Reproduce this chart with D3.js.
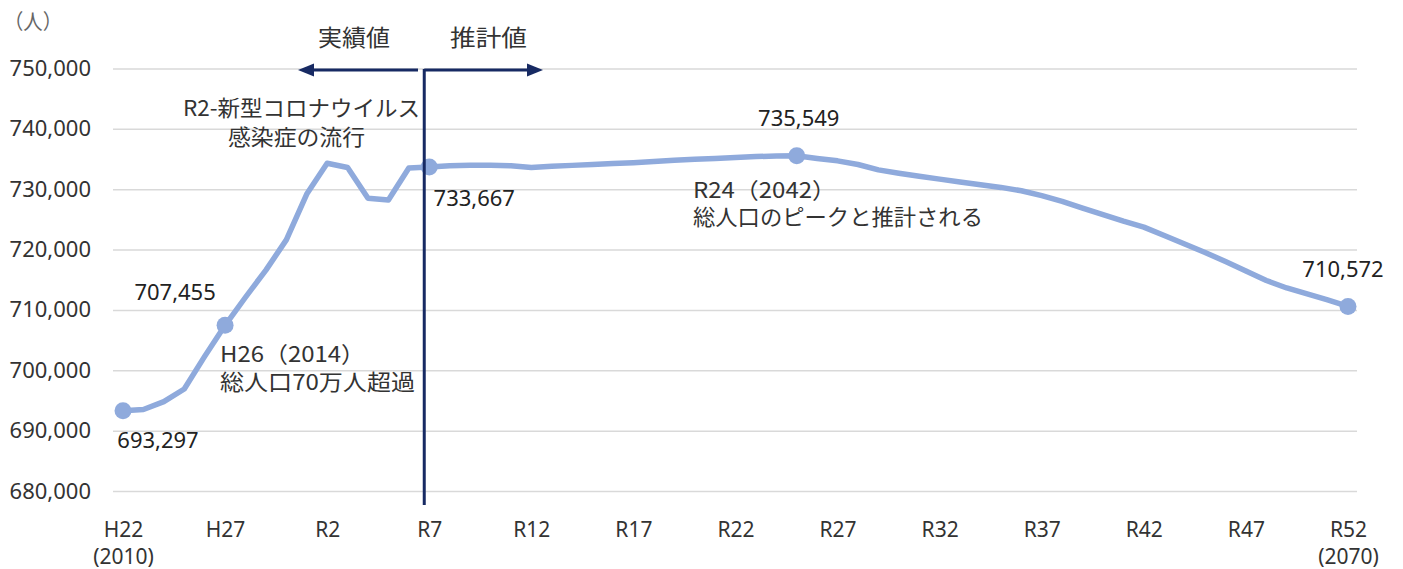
<!DOCTYPE html>
<html>
<head>
<meta charset="utf-8">
<script src="https://cdn.jsdelivr.net/npm/d3@7"></script>
<style>
  body { margin: 0; background: #fff; }
  svg text { font-family: "Noto Sans", "Noto Sans CJK JP", sans-serif; }
  .jp { font-family: "Noto Sans CJK JP", sans-serif; }
</style>
</head>
<body>
<svg id="chart"></svg>
<script>
var width = 1403;
var height = 569;

// years and population (実績値 to 2025, 推計値 after)
var years = [2010,2011,2012,2013,2014,2015,2016,2017,2018,2019,2020,2021,2022,2023,2024,2025,
  2026,2027,2028,2029,2030,2031,2032,2033,2034,2035,2036,2037,2038,2039,2040,2041,2042,2043,
  2044,2045,2046,2047,2048,2049,2050,2051,2052,2053,2054,2055,2056,2057,2058,2059,2060,
  2061,2062,2063,2064,2065,2066,2067,2068,2069,2070]
var population = [693297,693500,694800,696900,702300,707455,712100,716600,721600,729200,734300,733600,728500,728200,733500,733667,
  733900,733950,733950,733900,733600,733800,733950,734100,734250,734400,734600,734800,734950,735100,735250,735400,735520,735549,
  735100,734700,734100,733200,732650,732150,731670,731210,730750,730300,729750,728930,727990,726860,725790,724710,723720,
  722320,720910,719510,718020,716450,714880,713640,712650,711650,710572]

// highlighted points and their labels
var markedYears = [2010, 2015, 2025, 2043, 2070]
var markedLabels = ["693,297", "707,455", "733,667", "735,549", "710,572"]

var tickYears = [2010,2015,2020,2025,2030,2035,2040,2045,2050,2055,2060,2065,2070]
var tickLabels = ["H22","H27","R2","R7","R12","R17","R22","R27","R32","R37","R42","R47","R52"]
var tickSubLabels = ["(2010)","","","","","","","","","","","","(2070)"]

var yTicks = [680000,690000,700000,710000,720000,730000,740000,750000]

var x = d3.scaleLinear().domain([2010, 2070]).range([123, 1348])
var y = d3.scaleLinear().domain([680000, 750000]).range([491, 68.5])

var svg = d3.select("#chart")
    .attr("width", width)
    .attr("height", height)

// grid + y labels
var yAxis = d3.axisLeft(y)
    .tickValues(yTicks)
    .tickSize(-(x(2070) + 9 - (x(2010) - 10)))
    .tickPadding(22)
    .tickFormat(d3.format(","))

var gy = svg.append("g")
    .attr("transform", "translate(" + (x(2010) - 10) + ",0)")
    .call(yAxis)
gy.select(".domain").remove()
gy.selectAll(".tick line")
    .attr("stroke", "#d9d9d9")
    .attr("stroke-width", 1.5)
gy.selectAll(".tick text")
    .attr("font-size", 22)
    .attr("fill", "#333")

// x labels
var xAxis = d3.axisBottom(x)
    .tickValues(tickYears)
    .tickSize(0)
    .tickPadding(0)
    .tickFormat(function(d, i) { return tickLabels[i] })

var gx = svg.append("g")
    .attr("transform", "translate(0,522)")
    .call(xAxis)
gx.select(".domain").remove()
gx.selectAll(".tick text")
    .attr("font-size", 21)
    .attr("fill", "#333")
    .attr("dy", "0.71em")
gx.selectAll(".tick")
    .append("text")
    .attr("font-size", 21)
    .attr("fill", "#333")
    .attr("y", 27)
    .attr("dy", "0.71em")
    .attr("text-anchor", "middle")
    .text(function(d, i) { return tickSubLabels[i] })

// the line
var line = d3.line()
    .x(function(d) { return x(d[0]) })
    .y(function(d) { return y(d[1]) })

svg.append("path")
    .datum(d3.zip(years, population))
    .attr("d", line)
    .attr("fill", "none")
    .attr("stroke", "#8faadc")
    .attr("stroke-width", 5.5)
    .attr("stroke-linejoin", "round")

var marked = markedYears.map(function(yr, i) {
    return { year: yr, value: population[years.indexOf(yr)], label: markedLabels[i] }
})

svg.selectAll("circle.pt")
    .data(marked)
    .enter()
    .append("circle")
    .attr("class", "pt")
    .attr("cx", function(d) { return x(d.year) })
    .attr("cy", function(d) { return y(d.value) })
    .attr("r", 8.5)
    .attr("fill", "#8faadc")

// label offsets [dx, dy] from each point
var labelOffsets = [[35, 30], [-50, -33], [45, 31], [2, -37], [-5, -37]]
svg.selectAll("text.lbl")
    .data(marked)
    .enter()
    .append("text")
    .attr("class", "lbl")
    .attr("x", function(d, i) { return x(d.year) + labelOffsets[i][0] })
    .attr("y", function(d, i) { return y(d.value) + labelOffsets[i][1] })
    .attr("dy", "0.35em")
    .attr("text-anchor", "middle")
    .attr("font-size", 22)
    .attr("fill", "#222")
    .text(function(d) { return d.label })

// divider between 実績値 and 推計値
var navy = "#172a63"
var divX = x(2025) - 5
svg.append("line")
    .attr("x1", divX).attr("x2", divX)
    .attr("y1", 69).attr("y2", 505)
    .attr("stroke", navy).attr("stroke-width", 3)
svg.append("line")
    .attr("x1", divX).attr("x2", 530)
    .attr("y1", 70).attr("y2", 70)
    .attr("stroke", navy).attr("stroke-width", 3)
svg.append("line")
    .attr("x1", 418).attr("x2", 310)
    .attr("y1", 70).attr("y2", 70)
    .attr("stroke", navy).attr("stroke-width", 3)
svg.append("path")
    .attr("d", "M543,70 L527,63.5 L527,76.5 Z")
    .attr("fill", navy)
svg.append("path")
    .attr("d", "M298,70 L314,63.5 L314,76.5 Z")
    .attr("fill", navy)

// annotation text; each line = [text, x, y, drawn width] (the original font is wider)
function addNote(lines, size, color) {
    var t = svg.append("text")
        .attr("class", "jp")
        .attr("font-size", size)
        .attr("fill", color)
    lines.forEach(function(l) {
        t.append("tspan")
            .attr("x", l[1])
            .attr("y", l[2])
            .attr("dy", "0.35em")
            .attr("textLength", l[3])
            .attr("lengthAdjust", "spacingAndGlyphs")
            .text(l[0])
    })
}

addNote([["（人）", 4, 22, 58]], 21, "#666")
addNote([["実績値", 318, 38, 72]], 23, "#333")
addNote([["推計値", 450, 38, 77]], 23, "#333")
addNote([["R2-新型コロナウイルス", 183, 108, 237], ["感染症の流行", 228, 137, 137]], 22, "#333")
addNote([["H26（2014）", 220, 354, 145], ["総人口70万人超過", 220, 382, 195]], 22, "#333")
addNote([["R24（2042）", 693, 190, 143], ["総人口のピークと推計される", 693, 217, 290]], 22, "#333")
</script>
</body>
</html>
